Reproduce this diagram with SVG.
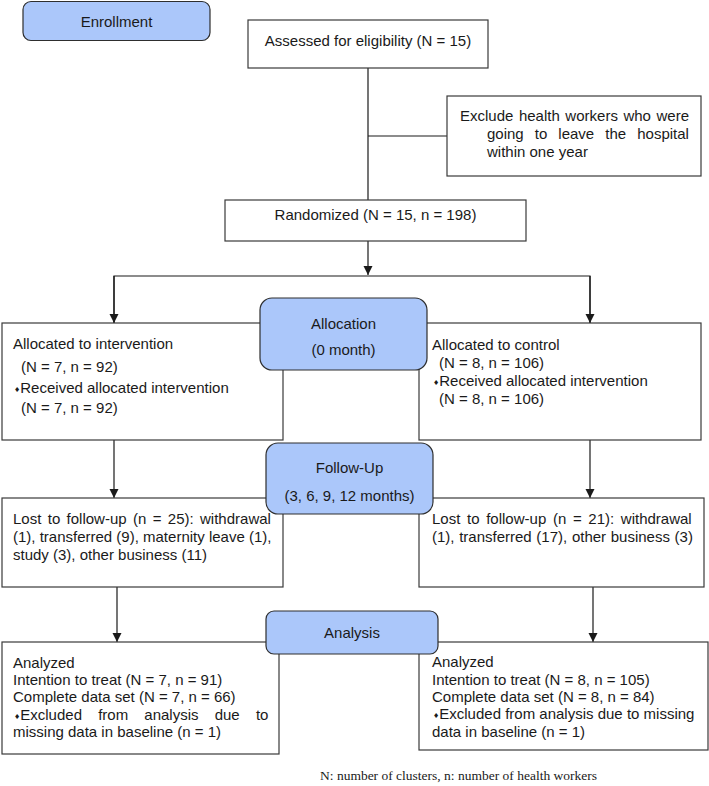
<svg xmlns="http://www.w3.org/2000/svg" width="709" height="786" viewBox="0 0 709 786">
<style>
.box{fill:#fff;stroke:#3a3a3a;stroke-width:1.2}
.phase{fill:#abc7fa;stroke:#2e2e2e;stroke-width:1.2}
.t{font-family:"Liberation Sans",Arial,sans-serif;font-size:15px;fill:#1a1a1a}
.c{text-anchor:middle}
.b{font-family:"DejaVu Sans",sans-serif;font-size:7px}
.ln{fill:none;stroke:#1a1a1a;stroke-width:1.2}
.note{font-family:"Liberation Serif","Times New Roman",serif;font-size:13.5px;fill:#1a1a1a}
</style>
<defs>
<marker id="arr" markerWidth="10" markerHeight="10" refX="9" refY="5" orient="auto" markerUnits="userSpaceOnUse">
<path d="M0,0.5 L9,5 L0,9.5 Z" fill="#1a1a1a"/>
</marker>
</defs>
<rect width="709" height="786" fill="#fff"/>

<g id="connectors">
<line class="ln" x1="368" y1="68" x2="368" y2="200"/>
<line class="ln" x1="368" y1="136" x2="447" y2="136"/>
<line class="ln" x1="368" y1="241" x2="368" y2="275" marker-end="url(#arr)"/>
<polyline class="ln" points="114,323 114,276 590,276 590,323"/>
<line class="ln" x1="114" y1="276" x2="114" y2="323" marker-end="url(#arr)"/>
<line class="ln" x1="590" y1="276" x2="590" y2="323" marker-end="url(#arr)"/>
<line class="ln" x1="114" y1="440" x2="114" y2="498" marker-end="url(#arr)"/>
<line class="ln" x1="590" y1="440" x2="590" y2="498" marker-end="url(#arr)"/>
<line class="ln" x1="117" y1="587" x2="117" y2="642" marker-end="url(#arr)"/>
<line class="ln" x1="593" y1="587" x2="593" y2="642" marker-end="url(#arr)"/>
</g>

<g id="enrollment">
<rect class="phase" x="23" y="1.5" width="187" height="39" rx="8"/>
<text class="t c" x="116.5" y="27">Enrollment</text>
</g>

<g id="assessed">
<rect class="box" x="248" y="20" width="240" height="48"/>
<text class="t c" x="368" y="46">Assessed for eligibility (N = 15)</text>
</g>

<g id="exclude">
<rect class="box" x="447" y="96" width="254" height="80"/>
<text class="t" x="460" y="121" word-spacing="1.4">Exclude health workers who were</text>
<text class="t" x="487" y="139" word-spacing="6.9">going to leave the hospital</text>
<text class="t" x="487" y="157">within one year</text>
</g>

<g id="randomized">
<rect class="box" x="225" y="200" width="301" height="41"/>
<text class="t c" x="375.5" y="220">Randomized (N = 15, n = 198)</text>
</g>

<g id="alloc-intervention">
<rect class="box" x="2" y="323" width="281" height="117"/>
<text class="t" x="13" y="349">Allocated to intervention</text>
<text class="t" x="21" y="372">(N = 7, n = 92)</text>
<text class="t" x="14" y="393"><tspan class="b" dy="-1">♦</tspan><tspan dy="1">Received allocated intervention</tspan></text>
<text class="t" x="21" y="413">(N = 7, n = 92)</text>
</g>

<g id="alloc-control">
<rect class="box" x="419" y="323" width="282" height="117"/>
<text class="t" x="432" y="350">Allocated to control</text>
<text class="t" x="439" y="368">(N = 8, n = 106)</text>
<text class="t" x="433" y="386"><tspan class="b" dy="-1">♦</tspan><tspan dy="1">Received allocated intervention</tspan></text>
<text class="t" x="439" y="404">(N = 8, n = 106)</text>
</g>

<g id="allocation">
<rect class="phase" x="260" y="298" width="167" height="72" rx="12"/>
<text class="t c" x="343.5" y="329">Allocation</text>
<text class="t c" x="343.5" y="355">(0 month)</text>
</g>

<g id="lost-intervention">
<rect class="box" x="2" y="498" width="281" height="89"/>
<text class="t" x="13" y="524" word-spacing="2.2">Lost to follow-up (n = 25): withdrawal</text>
<text class="t" x="13" y="542">(1), transferred (9), maternity leave (1),</text>
<text class="t" x="13" y="560">study (3), other business (11)</text>
</g>

<g id="lost-control">
<rect class="box" x="419" y="498" width="285" height="89"/>
<text class="t" x="432" y="524" word-spacing="2.5">Lost to follow-up (n = 21): withdrawal</text>
<text class="t" x="432" y="542" word-spacing="0.5">(1), transferred (17), other business (3)</text>
</g>

<g id="follow-up">
<rect class="phase" x="266" y="443" width="167" height="71" rx="12"/>
<text class="t c" x="349.5" y="473">Follow-Up</text>
<text class="t c" x="349.5" y="501">(3, 6, 9, 12 months)</text>
</g>

<g id="analyzed-intervention">
<rect class="box" x="2" y="642" width="277" height="112"/>
<text class="t" x="13" y="668">Analyzed</text>
<text class="t" x="13" y="685">Intention to treat (N = 7, n = 91)</text>
<text class="t" x="13" y="702">Complete data set (N = 7, n = 66)</text>
<text class="t" x="14" y="720" word-spacing="12"><tspan class="b" dy="-1">♦</tspan><tspan dy="1">Excluded from analysis due to</tspan></text>
<text class="t" x="13" y="737">missing data in baseline (n = 1)</text>
</g>

<g id="analyzed-control">
<rect class="box" x="419" y="642" width="289" height="108"/>
<text class="t" x="432" y="667">Analyzed</text>
<text class="t" x="432" y="685">Intention to treat (N = 8, n = 105)</text>
<text class="t" x="432" y="702">Complete data set (N = 8, n = 84)</text>
<text class="t" x="433" y="719"><tspan class="b" dy="-1">♦</tspan><tspan dy="1">Excluded from analysis due to missing</tspan></text>
<text class="t" x="432" y="737">data in baseline (n = 1)</text>
</g>

<g id="analysis">
<rect class="phase" x="266" y="611" width="172" height="43" rx="8"/>
<text class="t c" x="352" y="638">Analysis</text>
</g>

<text class="note" x="320" y="780">N: number of clusters, n: number of health workers</text>
</svg>
